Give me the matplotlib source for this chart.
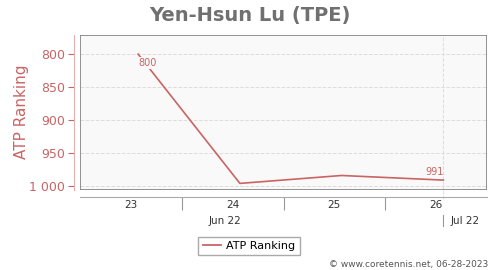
import matplotlib.pyplot as plt
import pandas as pd
from matplotlib.lines import Line2D
from matplotlib.patches import Rectangle

rank_dates = pd.to_datetime(["2023-06-10", "2023-06-17", "2023-06-24", "2023-07-01"])
ranking = [800, 996, 984, 991]
week_labels = ["23", "24", "25", "26"]
week_starts = pd.to_datetime(["2023-06-06", "2023-06-13", "2023-06-20", "2023-06-27", "2023-07-04"])
month_labels = ["Jun 22", "Jul 22"]
month_pos = pd.to_datetime(["2023-06-16 00:00", "2023-07-02 12:00"])
month_split = pd.to_datetime("2023-07-01")

red = '#c96464'
fig = plt.figure(figsize=(5, 2.7), dpi=100)
ax = fig.add_axes([80/500, 80/270, 407/500, 155/270])
ax.set_facecolor('#f9f9f9')

ax.plot(rank_dates, ranking, color=red, lw=1.2, zorder=3)

# point labels
ax.annotate(str(ranking[0]), (rank_dates[0], ranking[0]), xytext=(9, -9), textcoords='offset pixels',
            ha='center', va='center', fontsize=7, color=red, zorder=4,
            bbox=dict(boxstyle='square,pad=0.1', fc='#f9f9f9', ec='none'))
ax.annotate(str(ranking[-1]), (rank_dates[-1], ranking[-1]), xytext=(0, 8), textcoords='offset pixels',
            ha='right', va='center', fontsize=7, color=red, zorder=4)

ax.set_ylim(1006, 771)
ax.set_yticks([800, 850, 900, 950, 1000])
ax.yaxis.set_major_formatter(plt.FuncFormatter(lambda v, p: f"{int(v):,}".replace(",", " ")))
ax.tick_params(axis='y', colors=red, labelsize=9, length=4, pad=3, width=0.8)
ax.yaxis.grid(True, color='#dddddd', ls='--', lw=0.7)
ax.axvline(month_split, color='#dddddd', ls='--', lw=0.7, zorder=1)

ax.set_xlim(week_starts[0], week_starts[-1])
for s in ['top', 'right']:
    ax.spines[s].set_visible(False)
ax.spines['left'].set_position(('outward', 4))
ax.spines['left'].set_color('#e0b0b0')
ax.spines['bottom'].set_position(('outward', 5))
ax.spines['bottom'].set_color('#aaaaaa')
ax.add_patch(Rectangle((0, 0), 1, 1, transform=ax.transAxes, fill=False, ec='#808080', lw=1.2, zorder=5))

# week separators and labels
ax.set_xticks(week_starts[1:-1])
ax.set_xticklabels([])
ax.tick_params(axis='x', length=9, color='#999999', width=0.8)
trans = ax.get_xaxis_transform()
for i, lab in enumerate(week_labels):
    mid = week_starts[i] + (week_starts[i + 1] - week_starts[i]) / 2
    ax.text(mid, -0.097, lab, transform=trans, ha='center', va='center', fontsize=7.5, color='#333333')
for lab, pos in zip(month_labels, month_pos):
    ax.text(pos, -0.2, lab, transform=trans, ha='center', va='center', fontsize=7.5, color='#333333')
ax.add_line(Line2D([month_split, month_split], [-0.16, -0.23], transform=trans, color='#999999', lw=0.8, clip_on=False))
ax.add_line(Line2D([month_split, month_split], [0, -0.065], transform=trans, color='#dddddd', ls='--', lw=0.7, clip_on=False))

fig.text(0.5, 1 - 15/270, "Yen-Hsun Lu (TPE)", ha='center', va='center', fontsize=14,
         fontweight='bold', color='#707070')
fig.text(22/500, 1 - 112/270, "ATP Ranking", rotation=90, ha='center', va='center', fontsize=11, color=red)

fig.legend([Line2D([], [], color=red, lw=1.3)], ["ATP Ranking"], loc='center',
           bbox_to_anchor=(249/500, 1 - 246/270), fontsize=8, fancybox=False, edgecolor='#aaaaaa',
           framealpha=1, handlelength=1.6, handletextpad=0.5, borderpad=0.4)
fig.text(488/500, 1 - 265/270, "© www.coretennis.net, 06-28-2023", ha='right', va='center',
         fontsize=6.5, color='#555555')

fig.savefig("out.png", dpi=100)
